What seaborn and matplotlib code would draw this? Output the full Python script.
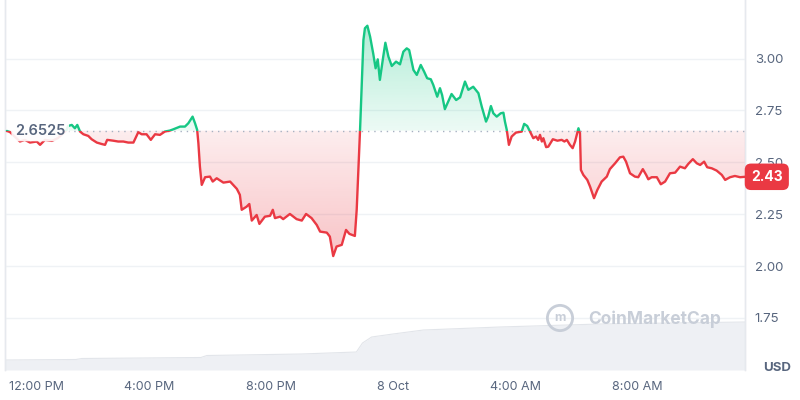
import numpy as np
import matplotlib
matplotlib.use("Agg")
import matplotlib.pyplot as plt
from matplotlib.patches import Rectangle
from matplotlib.colors import to_rgb
from matplotlib.transforms import ScaledTranslation
import seaborn as sns

# hours relative to 8 Oct 00:00
hours = [-12.66, -12.56, -12.39, -12.23, -12.07, -11.90, -11.68, -11.57, -11.41, -11.18,
         -10.98, -10.81, -10.70, -10.65, -10.53, -10.43, -10.35, -10.26, -10.15, -9.99,
         -9.88, -9.71, -9.55, -9.44, -9.37, -9.17, -9.01, -8.84, -8.68, -8.51,
         -8.35, -8.24, -8.08, -7.94, -7.80, -7.64, -7.48, -7.31, -7.20, -6.98,
         -6.82, -6.71, -6.57, -6.49, -6.42, -6.38, -6.33, -6.27, -6.16, -6.00,
         -5.91, -5.78, -5.56, -5.34, -5.12, -5.02, -4.96, -4.80, -4.71, -4.63,
         -4.47, -4.38, -4.20, -4.03, -3.94, -3.87, -3.70, -3.60, -3.38, -3.16,
         -2.99, -2.85, -2.67, -2.50, -2.39, -2.17, -2.07, -1.96, -1.85, -1.68,
         -1.54, -1.43, -1.25, -1.19, -1.08, -0.97, -0.92, -0.84, -0.75, -0.65,
         -0.57, -0.50, -0.43, -0.32, -0.25, -0.15, -0.04, 0.10, 0.23, 0.34,
         0.45, 0.53, 0.67, 0.78, 0.91, 1.02, 1.12, 1.24, 1.32, 1.45,
         1.54, 1.61, 1.70, 1.81, 1.92, 2.07, 2.20, 2.36, 2.47, 2.63,
         2.80, 2.91, 3.05, 3.12, 3.21, 3.29, 3.40, 3.53, 3.62, 3.67,
         3.73, 3.80, 3.89, 4.03, 4.22, 4.30, 4.40, 4.49, 4.60, 4.69,
         4.76, 4.82, 4.88, 4.93, 5.02, 5.09, 5.24, 5.39, 5.53, 5.62,
         5.70, 5.80, 5.89, 5.97, 6.08, 6.13, 6.16, 6.24, 6.37, 6.46,
         6.59, 6.70, 6.84, 7.01, 7.11, 7.28, 7.44, 7.55, 7.64, 7.77,
         7.93, 8.04, 8.19, 8.30, 8.37, 8.48, 8.65, 8.78, 8.92, 9.08,
         9.25, 9.41, 9.57, 9.68, 9.83, 9.96, 10.07, 10.20, 10.30, 10.45,
         10.61, 10.78, 10.89, 11.05, 11.21, 11.38, 11.54]
price = [2.651, 2.646, 2.622, 2.600, 2.608, 2.595, 2.600, 2.584, 2.608, 2.603,
         2.617, 2.641, 2.656, 2.675, 2.680, 2.664, 2.680, 2.648, 2.635, 2.627,
         2.611, 2.595, 2.588, 2.584, 2.608, 2.604, 2.600, 2.600, 2.595, 2.595,
         2.645, 2.635, 2.635, 2.608, 2.635, 2.632, 2.648, 2.653, 2.659, 2.672,
         2.672, 2.688, 2.720, 2.688, 2.656, 2.592, 2.479, 2.391, 2.428, 2.431,
         2.407, 2.423, 2.402, 2.407, 2.372, 2.343, 2.271, 2.286, 2.299, 2.219,
         2.246, 2.203, 2.238, 2.242, 2.271, 2.231, 2.238, 2.226, 2.251, 2.226,
         2.219, 2.251, 2.231, 2.198, 2.166, 2.161, 2.142, 2.048, 2.094, 2.102,
         2.174, 2.155, 2.145, 2.271, 2.656, 3.089, 3.146, 3.158, 3.105, 3.025,
         2.953, 2.996, 2.897, 3.009, 3.076, 3.009, 2.964, 2.985, 2.972, 3.033,
         3.049, 3.041, 2.945, 2.921, 2.969, 2.937, 2.905, 2.900, 2.873, 2.816,
         2.857, 2.824, 2.756, 2.792, 2.829, 2.800, 2.813, 2.889, 2.849, 2.864,
         2.833, 2.768, 2.696, 2.720, 2.771, 2.736, 2.720, 2.736, 2.739, 2.696,
         2.656, 2.584, 2.624, 2.643, 2.648, 2.685, 2.675, 2.648, 2.616, 2.624,
         2.608, 2.632, 2.600, 2.616, 2.573, 2.575, 2.611, 2.604, 2.608, 2.600,
         2.608, 2.584, 2.568, 2.600, 2.664, 2.640, 2.463, 2.439, 2.415, 2.383,
         2.327, 2.367, 2.407, 2.431, 2.467, 2.495, 2.524, 2.527, 2.503, 2.447,
         2.431, 2.428, 2.467, 2.439, 2.418, 2.428, 2.428, 2.394, 2.407, 2.447,
         2.450, 2.479, 2.471, 2.492, 2.515, 2.495, 2.487, 2.503, 2.476, 2.471,
         2.460, 2.439, 2.415, 2.428, 2.434, 2.428, 2.430]
open_price = 2.6525
last_price = 2.43

vol_hours = [-12.72, -10.4, -10.2, -6.3, -6.1, -3.0, -1.2, -1.0, -0.7, 0.0, 1.0, 3.5, 6.8, 11.54]
volume = [10, 10.5, 11.5, 12.5, 14.5, 16, 18, 27, 33, 36, 40, 43, 46, 48]

price_ticks = [1.75, 2.00, 2.25, 2.50, 2.75, 3.00]
time_ticks = [-12, -8, -4, 0, 4, 8]
time_labels = ["12:00 PM", "4:00 PM", "8:00 PM", "8 Oct", "4:00 AM", "8:00 AM"]

GREEN = "#16c784"
RED = "#ea3943"
GREY = "#58667e"

sns.set_theme(style="white")
plt.rcParams["font.family"] = ["Inter", "DejaVu Sans"]

x0, x1 = -12.72, 11.54
t = np.array(hours)
p = np.array(price)

fig = plt.figure(figsize=(8, 4), dpi=100)
ax = fig.add_axes([5 / 800, 30 / 400, 740 / 800, 370 / 400])
ax2 = ax.twinx()

# volume area at the bottom
ax.fill_between(vol_hours, volume, 0, color="#eef0f4", lw=0)
ax.plot(vol_hours, volume, color="#e2e5ea", lw=0.8)
ax.set_ylim(0, 370)
ax.set_yticks([])


def gradient(poly, color, lo, hi, a_lo, a_hi):
    img = np.zeros((100, 1, 4))
    img[..., :3] = to_rgb(color)
    img[:, 0, 3] = np.linspace(a_lo, a_hi, 100)
    im = ax2.imshow(img, extent=[x0, x1, lo, hi], origin="lower",
                    aspect="auto", zorder=1)
    im.set_clip_path(poly.get_paths()[0], ax2.transData)


poly_g = ax2.fill_between(t, np.maximum(p, open_price), open_price, color="none", lw=0)
poly_r = ax2.fill_between(t, np.minimum(p, open_price), open_price, color="none", lw=0)
gradient(poly_g, GREEN, open_price, p.max(), 0.08, 0.33)
gradient(poly_r, RED, p.min(), open_price, 0.30, 0.09)

# price line, green above the open price and red below
for color, clip in [(GREEN, Rectangle((x0, open_price), x1 - x0, 5)),
                    (RED, Rectangle((x0, 0), x1 - x0, open_price))]:
    sns.lineplot(x=t, y=p, ax=ax2, color=color, lw=1.7, estimator=None, sort=False, zorder=3)
    clip.set_transform(ax2.transData)
    ax2.lines[-1].set_clip_path(clip)

ax2.axhline(open_price, color="#a7b1c2", lw=1, ls=(0, (1, 3.5)), zorder=2)

ax2.set_xlim(x0, x1)
ax.set_xlim(x0, x1)
ax2.set_ylim(1.499, 3.282)
ax2.set_yticks(price_ticks)
ax2.set_yticklabels([f"{v:.2f}" for v in price_ticks])
ax2.grid(axis="y", color="#eff2f5", lw=1)
ax2.set_axisbelow(True)
ax2.tick_params(axis="y", length=0, pad=7, labelsize=9.5, labelcolor=GREY)

ax.set_xticks(time_ticks)
ax.set_xticklabels(time_labels)
ax.tick_params(axis="x", length=0, pad=8, labelsize=9, labelcolor=GREY)
first = ax.get_xticklabels()[0]
first.set_transform(first.get_transform() + ScaledTranslation(0.1, 0, fig.dpi_scale_trans))

for a in (ax, ax2):
    for s in ("top", "bottom"):
        a.spines[s].set_visible(False)
    for s in ("left", "right"):
        a.spines[s].set_color("#e6e9ee")
        a.spines[s].set_linewidth(1)

# open price label and last price tag
ax2.text(10 / 740, open_price, "2.6525", transform=ax2.get_yaxis_transform(),
         ha="left", va="center", fontsize=10.5, color=GREY, weight="semibold", zorder=6,
         bbox=dict(boxstyle="round,pad=0.25", fc="white", ec="none", alpha=0.9))
ax2.text(1 + 6 / 740, last_price, f"{last_price:.2f}", transform=ax2.get_yaxis_transform(),
         ha="left", va="center", fontsize=10, color="white", weight="bold", clip_on=False,
         bbox=dict(boxstyle="round,pad=0.45", fc=RED, ec="none"))

fig.text(777 / 800, 1 - 368 / 400, "USD", ha="center", va="center",
         fontsize=9.5, weight="bold", color=GREY)

# watermark
ax2.scatter([555 / 740], [52 / 370], s=330, facecolors="none", edgecolors="#c8ced8",
            linewidths=2, transform=ax2.transAxes, zorder=2)
ax2.text(555 / 740, 52 / 370, "m", transform=ax2.transAxes, ha="center", va="center",
         fontsize=9, weight="bold", color="#c8ced8", zorder=2)
fig.text(655 / 800, 1 - 319 / 400, "CoinMarketCap", ha="center", va="center",
         fontsize=12.5, weight="bold", color="#c8ced8")

fig.savefig("out.png", dpi=100)
